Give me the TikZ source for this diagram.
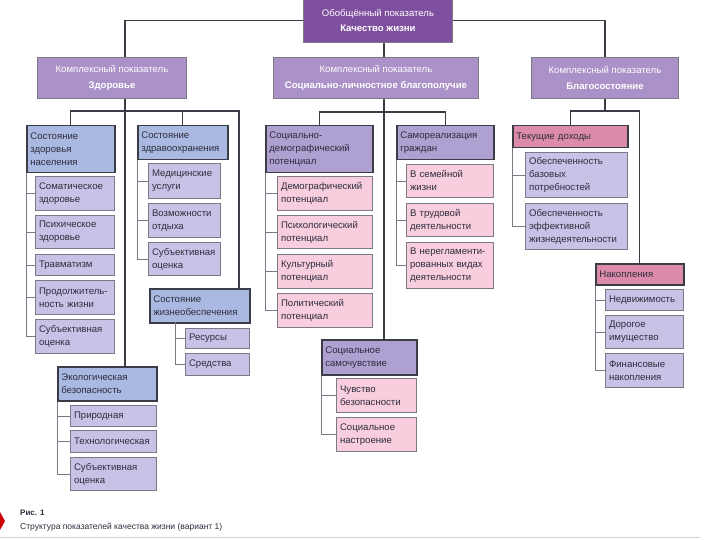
\documentclass[tikz,border=0pt]{standalone}
\usepackage{fontspec}
\setmainfont{Liberation Sans}
\usepackage{xcolor}

\definecolor{topfill}{HTML}{7F4F9F}
\definecolor{midfill}{HTML}{AA91C8}
\definecolor{bluefill}{HTML}{AAB9E1}
\definecolor{violfill}{HTML}{AFA0D2}
\definecolor{rosefill}{HTML}{DC8CAA}
\definecolor{lilacfill}{HTML}{C8C3E6}
\definecolor{pinkfill}{HTML}{F8CDDE}
\definecolor{edge}{HTML}{3C3C46}
\definecolor{soft}{HTML}{7A7A86}
\definecolor{ink}{HTML}{2C2C3C}

\tikzset{
  cell/.style 2 args={anchor=north west, text width=#1pt, minimum height=#2pt,
    inner xsep=3.6pt, inner ysep=1pt, align=left, text=ink,
    font=\fontsize{9.6}{13}\selectfont},
  lead/.style={draw=edge, line width=1.5pt},
  kid/.style={draw=soft, line width=0.9pt},
  head/.style 2 args={anchor=north west, minimum width=#1pt, minimum height=#2pt,
    align=center, text=white, draw=soft, line width=0.9pt,
    font=\fontsize{9.6}{12}\selectfont},
  bus/.style={draw=edge, line width=1.2pt},
  twig/.style={draw=soft, line width=0.8pt},
}

\begin{document}
\begin{tikzpicture}[x=1pt, y=-1pt]
  \useasboundingbox (0,0) rectangle (720,540);

  % headers
  \node[head={149}{44}, fill=topfill] (qol) at (303,-2)
    {Обобщённый показатель\\[3pt]\textbf{Качество жизни}};
  \node[head={149}{41}, fill=midfill] (health) at (37,57)
    {Комплексный показатель\\[4pt]\textbf{Здоровье}};
  \node[head={205}{41}, fill=midfill] (social) at (273,57)
    {Комплексный показатель\\[4pt]\textbf{Социально-личностное благополучие}};
  \node[head={147}{41}, fill=midfill] (wealth) at (531,57)
    {Комплексный показатель\\[4pt]\textbf{Благосостояние}};

  % groups
  \node[cell={81}{47}, lead, fill=bluefill] (popst) at (26,125) {Состояние\\здоровья\\населения};
  \node[cell={83}{34}, lead, fill=bluefill] (carest) at (137,125) {Состояние\\здравоохранения};
  \node[cell={93}{34}, lead, fill=bluefill] (lifest) at (149,288) {Состояние\\жизнеобеспечения};
  \node[cell={92}{34}, lead, fill=bluefill] (ecost) at (57,366) {Экологическая\\безопасность};
  \node[cell={100}{47}, lead, fill=violfill] (demst) at (265,125) {Социально-\\демографический\\потенциал};
  \node[cell={90}{34}, lead, fill=violfill] (selfst) at (396,125) {Самореализация\\граждан};
  \node[cell={88}{35}, lead, fill=violfill] (feelst) at (321,339) {Социальное\\самочувствие};
  \node[cell={108}{22}, lead, fill=rosefill] (incst) at (512,125) {Текущие доходы};
  \node[cell={81}{21}, lead, fill=rosefill] (savst) at (595,263) {Накопления};

  % items
  \node[cell={72}{34}, kid, fill=lilacfill] (h1) at (35,176) {Соматическое\\здоровье};
  \node[cell={72}{33}, kid, fill=lilacfill] (h2) at (35,215) {Психическое\\здоровье};
  \node[cell={72}{21}, kid, fill=lilacfill] (h3) at (35,254) {Травматизм};
  \node[cell={72}{34}, kid, fill=lilacfill] (h4) at (35,280) {Продолжитель-\\ность жизни};
  \node[cell={72}{34}, kid, fill=lilacfill] (h5) at (35,319) {Субъективная\\оценка};

  \node[cell={65}{35}, kid, fill=lilacfill] (c1) at (148,163) {Медицинские\\услуги};
  \node[cell={65}{34}, kid, fill=lilacfill] (c2) at (148,203) {Возможности\\отдыха};
  \node[cell={65}{33}, kid, fill=lilacfill] (c3) at (148,242) {Субъективная\\оценка};

  \node[cell={57}{20}, kid, fill=lilacfill] (l1) at (185,328) {Ресурсы};
  \node[cell={57}{22}, kid, fill=lilacfill] (l2) at (185,353) {Средства};

  \node[cell={79}{21}, kid, fill=lilacfill] (e1) at (70,405) {Природная};
  \node[cell={79}{22}, kid, fill=lilacfill] (e2) at (70,430) {Технологическая};
  \node[cell={79}{33}, kid, fill=lilacfill] (e3) at (70,457) {Субъективная\\оценка};

  \node[cell={88}{34}, kid, fill=pinkfill] (d1) at (277,176) {Демографический\\потенциал};
  \node[cell={88}{33}, kid, fill=pinkfill] (d2) at (277,215) {Психологический\\потенциал};
  \node[cell={88}{34}, kid, fill=pinkfill] (d3) at (277,254) {Культурный\\потенциал};
  \node[cell={88}{34}, kid, fill=pinkfill] (d4) at (277,293) {Политический\\потенциал};

  \node[cell={80}{33}, kid, fill=pinkfill] (s1) at (406,164) {В семейной\\жизни};
  \node[cell={80}{33}, kid, fill=pinkfill] (s2) at (406,203) {В трудовой\\деятельности};
  \node[cell={80}{46}, kid, fill=pinkfill] (s3) at (406,242) {В нерегламенти-\\рованных видах\\деятельности};

  \node[cell={73}{34}, kid, fill=pinkfill] (f1) at (336,378) {Чувство\\безопасности};
  \node[cell={73}{34}, kid, fill=pinkfill] (f2) at (336,417) {Социальное\\настроение};

  \node[cell={95}{45}, kid, fill=lilacfill] (i1) at (525,152) {Обеспеченность\\базовых\\потребностей};
  \node[cell={95}{46}, kid, fill=lilacfill] (i2) at (525,203) {Обеспеченность\\эффективной\\жизнедеятельности};

  \node[cell={71}{21}, kid, fill=lilacfill] (a1) at (605,289) {Недвижимость};
  \node[cell={71}{33}, kid, fill=lilacfill] (a2) at (605,315) {Дорогое\\имущество};
  \node[cell={71}{34}, kid, fill=lilacfill] (a3) at (605,353) {Финансовые\\накопления};

  % main lines
  \coordinate (hx) at (125,0);
  \coordinate (sx) at (384,0);
  \coordinate (hr) at (239,111);
  \coordinate (lifebar) at (175,322);
  \draw[bus] (qol.west) -| (health.north -| hx);
  \draw[bus] (qol.east) -| (wealth.north);
  \draw[bus] (qol.south -| sx) -- (social.north -| sx);
  \draw[bus] (health.south -| hx) -- (ecost.north -| hx);
  \draw[bus] (popst.north) |- (hr) -- (hr |- lifest.north);
  \draw[bus] (carest.north) -- (carest.north |- hr);
  \draw[bus] (social.south -| sx) -- (feelst.north -| sx);
  \draw[bus] (demst.north) -- ++(0,-13) -| (selfst.north);
  \draw[bus] (wealth.south) -- ++(0,13);
  \draw[bus] (incst.north) -- ++(0,-14) -| (savst.north);

  % item lines
  \foreach \k in {h1,h2,h3,h4,h5} \draw[twig] (popst.south west) |- (\k.west);
  \foreach \k in {c1,c2,c3} \draw[twig] (carest.south west) |- (\k.west);
  \foreach \k in {l1,l2} \draw[twig] (lifebar) |- (\k.west);
  \foreach \k in {e1,e2,e3} \draw[twig] (ecost.south west) |- (\k.west);
  \foreach \k in {d1,d2,d3,d4} \draw[twig] (demst.south west) |- (\k.west);
  \foreach \k in {s1,s2,s3} \draw[twig] (selfst.south west) |- (\k.west);
  \foreach \k in {f1,f2} \draw[twig] (feelst.south west) |- (\k.west);
  \foreach \k in {i1,i2} \draw[twig] (incst.south west) |- (\k.west);
  \foreach \k in {a1,a2,a3} \draw[twig] (savst.south west) |- (\k.west);

  % caption
  \fill[red!80!black] (0,512) -- (5,521) -- (0,530) -- cycle;
  \node[anchor=west, inner sep=0, text=ink, font=\bfseries\fontsize{8}{10}\selectfont]
    (fig) at (20,513) {Рис. 1};
  \node[anchor=west, inner sep=0, text=ink, font=\fontsize{8.5}{10}\selectfont]
    (cap) at (20,527) {Структура показателей качества жизни (вариант 1)};
  \draw[gray!35, line width=0.8pt] (0,537) -- (700,537);
\end{tikzpicture}
\end{document}
